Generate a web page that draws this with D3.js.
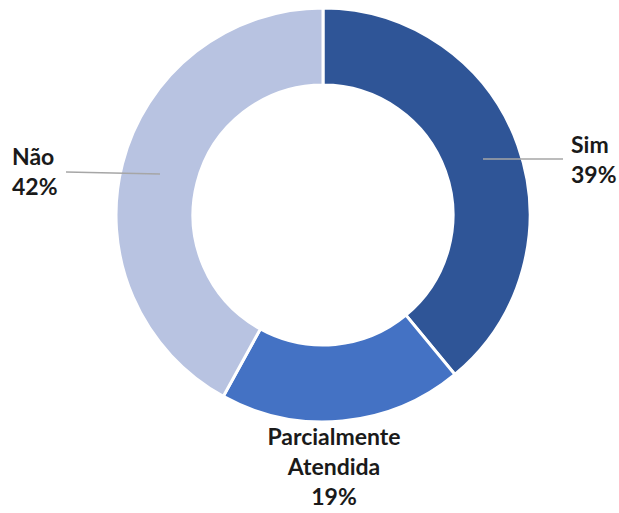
<!DOCTYPE html>
<html><head><meta charset="utf-8">
<script src="https://cdn.jsdelivr.net/npm/d3@7"></script>
<style>html,body{margin:0;padding:0;background:#fff;}svg{display:block;}</style>
</head><body>
<svg id="c" width="619" height="513"></svg>
<script>
const categories = ["Sim", "Parcialmente Atendida", "Não"];
const values = [39, 19, 42];
const colors = ["#2F5597", "#4472C4", "#B8C3E1"];

const svg = d3.select("#c");
const cx = 323, cy = 215, outerR = 207, innerR = 130;
const g = svg.append("g").attr("transform", `translate(${cx},${cy})`);

const pie = d3.pie().sort(null).value(d => d)(values);
const arc = d3.arc().innerRadius(innerR).outerRadius(outerR);

g.selectAll("path").data(pie).enter().append("path")
  .attr("d", arc)
  .attr("fill", (d, i) => colors[i])
  .attr("stroke", "#fff").attr("stroke-width", 3);

const font = "Lato, 'Open Sans', sans-serif";
// Leader lines
const lines = [
  {x1: 483, y1: 159, x2: 563, y2: 159},
  {x1: 160, y1: 174, x2: 66, y2: 172}
];
svg.selectAll("line.lead").data(lines).enter().append("line")
  .attr("x1", d => d.x1).attr("y1", d => d.y1).attr("x2", d => d.x2).attr("y2", d => d.y2)
  .attr("stroke", "#A6A6A6").attr("stroke-width", 1.5);

const labels = [
  {lines: ["Sim", values[0] + "%"], x: 571, y: 153, anchor: "start"},
  {lines: ["Parcialmente", "Atendida", values[1] + "%"], x: 334, y: 445, anchor: "middle"},
  {lines: ["Não", values[2] + "%"], x: 12, y: 165, anchor: "start"}
];
labels.forEach(l => {
  const t = svg.append("text").attr("x", l.x).attr("y", l.y)
    .attr("text-anchor", l.anchor).attr("font-family", font)
    .attr("font-size", 23).attr("font-weight", "bold").attr("fill", "#1a1a1a");
  l.lines.forEach((s, i) => {
    t.append("tspan").attr("x", l.x).attr("dy", i === 0 ? 0 : 30).text(s);
  });
});
</script>
</body></html>
